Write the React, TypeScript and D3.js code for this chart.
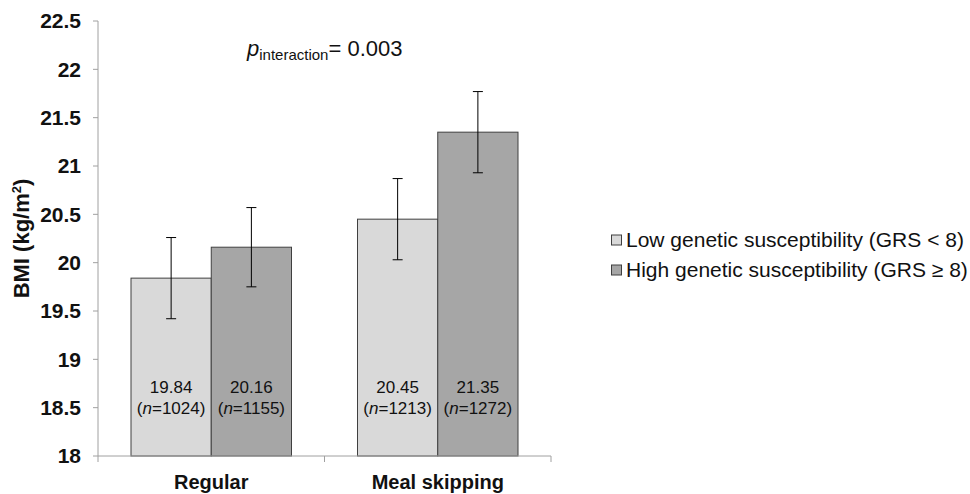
import React from 'react';
import * as d3 from 'd3';

// データ
const categories = ['Regular', 'Meal skipping'];
const seriesNames = ['Low genetic susceptibility (GRS < 8)', 'High genetic susceptibility (GRS ≥ 8)'];
const seriesColors = ['#d9d9d9', '#a6a6a6'];
const lowValues = [19.84, 20.45];
const highValues = [20.16, 21.35];
const lowErrors = [0.42, 0.42];
const highErrors = [0.41, 0.42];
const lowN = [1024, 1213];
const highN = [1155, 1272];
const yTicks = [18, 18.5, 19, 19.5, 20, 20.5, 21, 21.5, 22, 22.5];

const W = 970;
const H = 494;
const margin = { top: 21, left: 98, right: 419, bottom: 38 };

export default function App() {
  const plotW = W - margin.left - margin.right;
  const plotBottom = H - margin.bottom;

  const x = d3.scaleBand<string>().domain(categories).range([margin.left, margin.left + plotW]).paddingInner(0).paddingOuter(0);
  const y = d3.scaleLinear().domain([18, 22.5]).range([plotBottom, margin.top]);

  const groupPad = 33; // 各カテゴリ内の左右余白
  const barW = (x.bandwidth() - groupPad * 2) / 2;

  const bars = categories.flatMap((c, i) => [
    { cat: c, s: 0, value: lowValues[i], err: lowErrors[i], n: lowN[i] },
    { cat: c, s: 1, value: highValues[i], err: highErrors[i], n: highN[i] },
  ]);

  const axisColor = '#a0a0a0';
  const font = '"Liberation Sans", Arial, sans-serif';

  return (
    <svg width={W} height={H} style={{ position: 'absolute', left: 0, top: 0, background: '#fff', fontFamily: font }}>
      {/* バー */}
      {bars.map((b, k) => {
        const bx = (x(b.cat) as number) + groupPad + b.s * barW;
        const by = y(b.value);
        const cx = bx + barW / 2;
        return (
          <g key={k}>
            <rect x={bx} y={by} width={barW} height={plotBottom - by} fill={seriesColors[b.s]} stroke="#404040" strokeWidth={1} />
            <line x1={cx} x2={cx} y1={y(b.value + b.err)} y2={y(b.value - b.err)} stroke="#000" strokeWidth={1} />
            <line x1={cx - 5} x2={cx + 5} y1={y(b.value + b.err)} y2={y(b.value + b.err)} stroke="#000" strokeWidth={1} />
            <line x1={cx - 5} x2={cx + 5} y1={y(b.value - b.err)} y2={y(b.value - b.err)} stroke="#000" strokeWidth={1} />
            <text x={cx} y={393} textAnchor="middle" fontSize={17} fill="#111">{b.value.toFixed(2)}</text>
            <text x={cx} y={414} textAnchor="middle" fontSize={17} fill="#111">
              (<tspan fontStyle="italic">n</tspan>={b.n})
            </text>
          </g>
        );
      })}

      {/* Y軸 */}
      <line x1={margin.left} x2={margin.left} y1={margin.top} y2={plotBottom} stroke={axisColor} />
      {yTicks.map(t => (
        <g key={t}>
          <line x1={margin.left - 5} x2={margin.left} y1={y(t)} y2={y(t)} stroke={axisColor} />
          <text x={81} y={y(t)} dy="0.35em" textAnchor="end" fontSize={21} fontWeight="bold" fill="#111">{t}</text>
        </g>
      ))}
      <text transform={`translate(29,${(margin.top + plotBottom) / 2}) rotate(-90)`} textAnchor="middle" fontSize={22} fontWeight="bold" fill="#111">
        BMI (kg/m<tspan dy={-8} fontSize={13}>2</tspan><tspan dy={8}>)</tspan>
      </text>

      {/* X軸 */}
      <line x1={margin.left} x2={margin.left + plotW} y1={plotBottom} y2={plotBottom} stroke={axisColor} />
      {[...categories.map(c => x(c) as number), margin.left + plotW].map((t, i) => (
        <line key={i} x1={t} x2={t} y1={plotBottom} y2={plotBottom + 6} stroke={axisColor} />
      ))}
      {categories.map(c => (
        <text key={c} x={(x(c) as number) + x.bandwidth() / 2} y={489} textAnchor="middle" fontSize={20} fontWeight="bold" fill="#111">{c}</text>
      ))}

      {/* p値 */}
      <text x={247} y={56} fontSize={22} fill="#111">
        <tspan fontStyle="italic">p</tspan>
        <tspan fontSize={15} dy={4}>interaction</tspan>
        <tspan dy={-4}>= 0.003</tspan>
      </text>

      {/* 凡例 */}
      {seriesNames.map((s, i) => (
        <g key={s} transform={`translate(611,${240 + i * 30})`}>
          <rect x={0.5} y={-5} width={10} height={10} fill={seriesColors[i]} stroke="#404040" />
          <text x={15} y={0} dy="0.35em" fontSize={21} fill="#111">{s}</text>
        </g>
      ))}
    </svg>
  );
}
